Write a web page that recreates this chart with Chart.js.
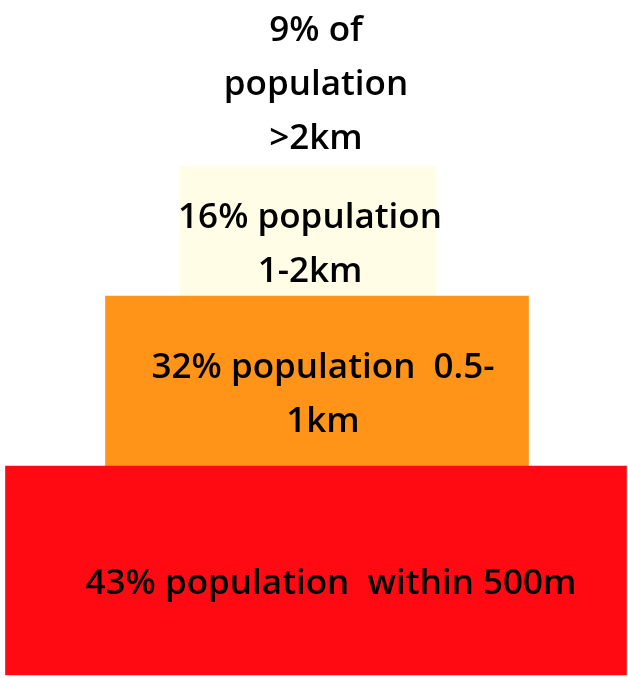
<!DOCTYPE html>
<html>
<head>
<meta charset="utf-8">
<script src="https://cdn.jsdelivr.net/npm/chart.js@4/dist/chart.umd.min.js"></script>
<style>
  html, body { margin: 0; padding: 0; background: #ffffff; }
  canvas { display: block; }
</style>
</head>
<body>
<canvas id="c" width="628" height="678"></canvas>
<script>
// Tiers, bottom to top
const tierNames = ["within 500m", "0.5-1km", "1-2km", ">2km"];
const populationShare = [43, 32, 16, 9];
const tierLabelLines = [
  ["43% population  within 500m"],
  ["32% population  0.5-", "1km"],
  ["16% population", "1-2km"],
  ["9% of", "population", ">2km"]
];
// Relative block sizes (pyramid drawing units)
const tierWidths = [621, 423, 256, 180];
const tierHeights = [209, 170, 130, 190];
const tierShift = [0, 1, -8, 0];
const tierColors = ["#ff0a13", "#ff9419", "#fffde6", "#ffffff"];
const labelNudge = [15, 6, 2, 0];

const baseOffset = 3;
const datasets = [];
let cum = baseOffset;
for (let i = 0; i < tierNames.length; i++) {
  const mid = cum + tierHeights[i] / 2;
  cum += tierHeights[i];
  datasets.push({
    label: tierNames[i],
    data: [{ y: mid, x: [tierShift[i] - tierWidths[i] / 2, tierShift[i] + tierWidths[i] / 2] }],
    backgroundColor: tierColors[i],
    borderWidth: 0,
    borderSkipped: false,
    barThickness: tierHeights[i],
    grouped: false,
    share: populationShare[i],
    lines: tierLabelLines[i]
  });
}

const labelPlugin = {
  id: 'tierLabels',
  afterDatasetsDraw(chart) {
    const ctx = chart.ctx;
    ctx.save();
    ctx.font = '600 35px "Open Sans"';
    ctx.fillStyle = '#000000';
    ctx.textAlign = 'center';
    ctx.textBaseline = 'middle';
    const lineH = 54;
    chart.data.datasets.forEach((ds, i) => {
      const el = chart.getDatasetMeta(i).data[0];
      const cx = (el.x + el.base) / 2;
      const cy = el.y + 14;
      const n = ds.lines.length;
      ds.lines.forEach((t, k) => {
        ctx.fillText(t, cx + labelNudge[i], cy + (k - (n - 1) / 2) * lineH);
      });
    });
    ctx.restore();
  }
};

new Chart(document.getElementById('c'), {
  type: 'bar',
  data: { datasets },
  options: {
    indexAxis: 'y',
    responsive: false,
    animation: false,
    layout: { padding: 0 },
    plugins: { legend: { display: false }, tooltip: { enabled: false } },
    scales: {
      x: { type: 'linear', min: -316, max: 312, display: false, offset: false },
      y: { type: 'linear', min: 0, max: 678, display: false, offset: false }
    }
  },
  plugins: [labelPlugin]
});
</script>
</body>
</html>
